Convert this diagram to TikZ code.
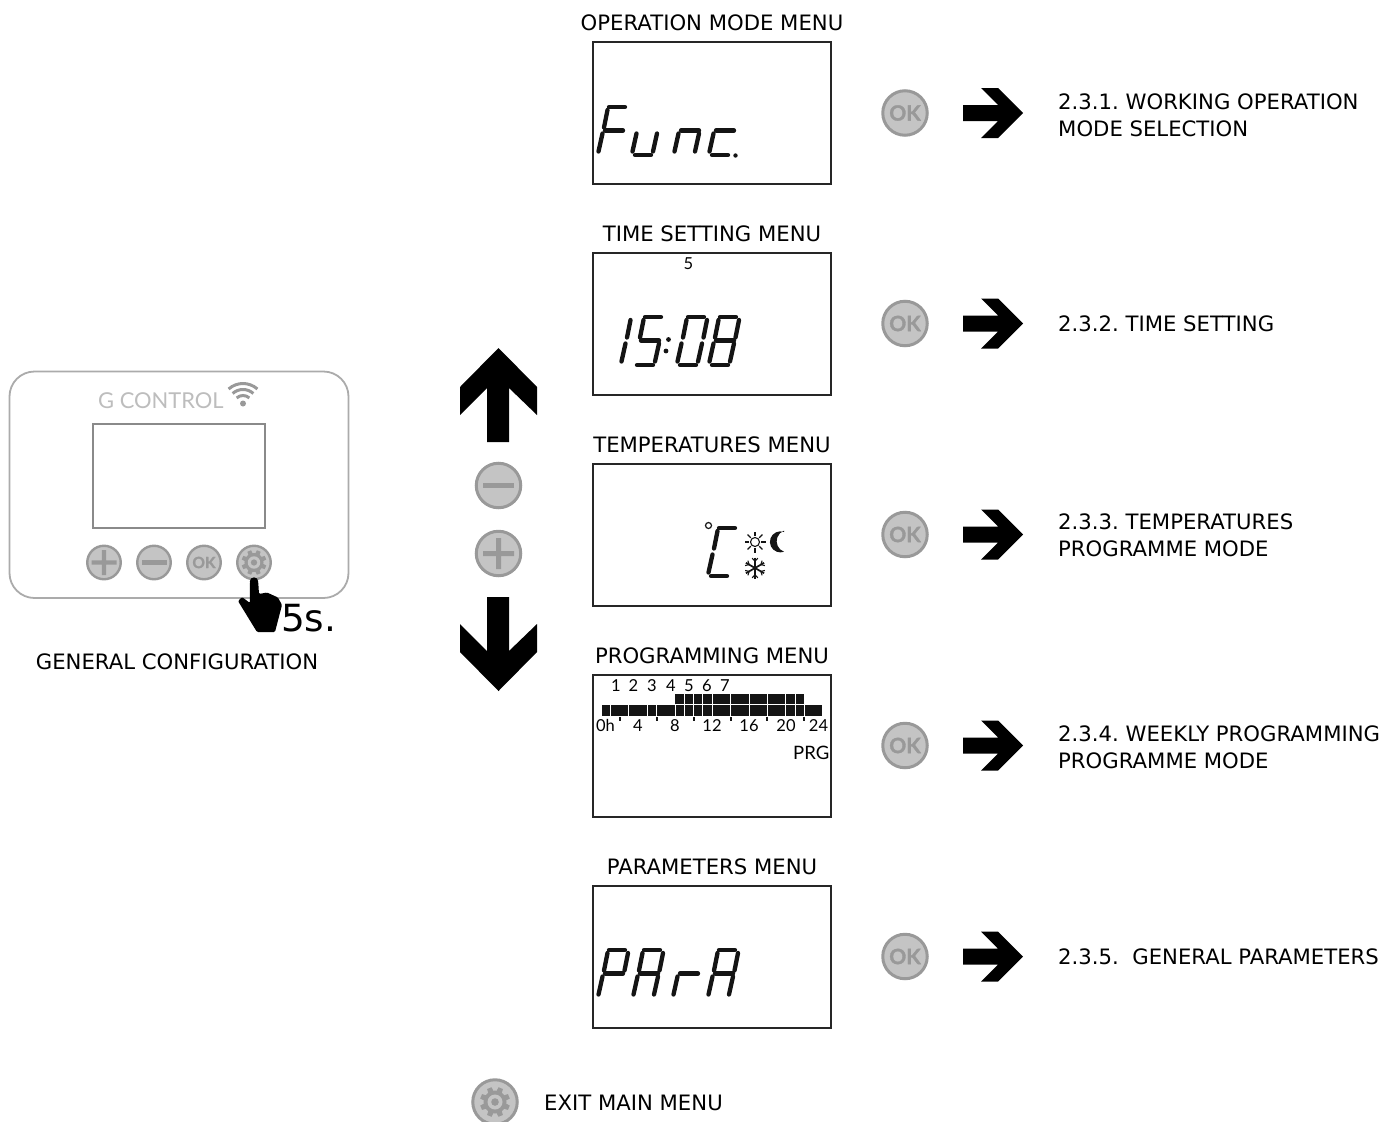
\documentclass[tikz,border=0pt]{standalone}
\usepackage{fontspec}
\usetikzlibrary{calc}
\setmainfont{DejaVu Sans}
\newfontfamily\lat{Lato}
\newfontfamily\latok[FakeBold=1.6]{Lato Bold}
\definecolor{btnfill}{HTML}{C4C4C4}
\definecolor{btnline}{HTML}{999999}
\definecolor{devline}{HTML}{ABABAB}
\definecolor{logo}{HTML}{BDBDBD}
\definecolor{lcd}{HTML}{141414}
\frenchspacing
\tikzset{
 lab/.style={inner sep=0pt,anchor=base,font=\fontsize{21.2}{24}\selectfont,text=black},
 labl/.style={lab,anchor=base west},
 screen/.style={draw=black!85,line width=1.5pt,fill=white,minimum width=238pt,minimum height=142pt,inner sep=0pt},
 bigbtn/.style={circle,draw=btnline,line width=3pt,fill=btnfill,minimum size=44.5pt,inner sep=0pt},
 smallbtn/.style={circle,draw=btnline,line width=2.4pt,fill=btnfill,minimum size=33.5pt,inner sep=0pt},
 lcdline/.style={draw=lcd,line width=4.3pt,line cap=round},
 small/.style={inner sep=0pt,anchor=base,font=\lat\fontsize{16.5}{18}\selectfont,text=black},
 blackshape/.style={fill=black,draw=none},
}
% seven-segment digit: origin = bottom-left corner
\newcommand\lcdsega{\draw[lcdline] (12,-48)--(28,-48);}
\newcommand\lcdsegb{\draw[lcdline] (27.5,-27.5)--(31,-45);}
\newcommand\lcdsegc{\draw[lcdline] (22,-3.5)--(26,-21.5);}
\newcommand\lcdsegd{\draw[lcdline] (4,0)--(20,0);}
\newcommand\lcdsege{\draw[lcdline] (1.5,-3.5)--(5.5,-21.5);}
\newcommand\lcdsegf{\draw[lcdline] (7,-27.5)--(10.5,-45);}
\newcommand\lcdsegg{\draw[lcdline] (8,-24.5)--(26,-24.5);}
\newcommand\lcddigit[3]{\begin{scope}[shift={(#1,#2)}]\foreach \s in {#3}{\csname lcdseg\s\endcsname}\end{scope}}
\newcommand\gearicon[3]{\begin{scope}[shift={(#1,#2)},scale=#3]
 \foreach \a in {0,45,...,315}{\fill[btnline,rotate=\a+22.5] (-2.8,-10)--(2.8,-10)--(2.4,-15)--(-2.4,-15)--cycle;}
 \fill[btnline] (0,0) circle (11.5);
 \fill[btnfill] (0,0) circle (7.5);
 \fill[btnline] (0,0) circle (3.8);
\end{scope}}
\newcommand\bigok[2]{\node[bigbtn] (#1) at (905,#2) {\latok\fontsize{21}{21}\selectfont\textcolor{btnline}{OK}};}
\newcommand\bigarrow[2]{\fill[blackshape,shift={(0,#1)}] (963,-8)--(998,-8)--(981,-25)--(998,-25)--(1023,0)--(998,25)--(981,25)--(998,8)--(963,8)--cycle;
 \coordinate (#2) at (1023,#1);}
\begin{document}
\begin{tikzpicture}[x=1pt,y=-1pt]
\useasboundingbox (0,0) rectangle (1382,1122);
% device
\draw[devline,line width=1.8pt,fill=white,rounded corners=25pt] (9.5,371.5) rectangle (348.5,598);
\node[draw=btnline!90!black,line width=2pt,minimum width=172pt,minimum height=104pt,inner sep=0pt] (devscreen) at (179,476) {};
\node[inner sep=0pt,anchor=base west,font=\lat\fontsize{21.9}{24}\selectfont,text=logo] (brand) at (98,408) {G CONTROL};
\fill[btnline] (243,403.5) circle (3);
\foreach \r in {9.5,15.5,21.5}{\draw[btnline,line width=3pt] ($(243,405)+(-48:\r)$) arc[start angle=-48,end angle=-132,radius=\r];}
\node[smallbtn] (devplus) at (104,562.5) {};
\fill[btnline] (91.5,560.3)--(116.5,560.3)--(116.5,564.7)--(91.5,564.7)--cycle (101.8,550)--(106.2,550)--(106.2,575)--(101.8,575)--cycle;
\node[smallbtn] (devminus) at (154,562.5) {};
\fill[btnline] (141.5,560.3)--(166.5,560.3)--(166.5,564.7)--(141.5,564.7)--cycle;
\node[smallbtn] (devok) at (204,562.5) {\latok\fontsize{15.5}{15.5}\selectfont\textcolor{btnline}{OK}};
\node[smallbtn] (devgear) at (254,562.5) {};
\gearicon{254}{562.5}{0.83}
% hand
\fill[black] (254,581.5) circle (4.2);
\fill[black,rounded corners=1.2pt] (249.8,581.5)--(258.2,581.5)--(259,594)--(267,592.5)--(278,597.5)--(282,605)--(275,632)--(257,632)--(238,601)--(242,597)--(250,603)--cycle;
\node[inner sep=0pt,anchor=base west,font=\fontsize{37.4}{40}\selectfont] (fives) at (281,631) {5s.};
\node[lab] (gencfg) at (177,669) {GENERAL CONFIGURATION};
% up/down
\fill[blackshape] (498.5,348)--(537,387)--(537,415)--(509,388)--(509,442)--(487,442)--(487,388)--(460,415)--(460,387)--cycle;
\fill[blackshape] (498.5,691)--(537,652)--(537,624)--(509,651)--(509,597)--(487,597)--(487,651)--(460,624)--(460,652)--cycle;
\node[bigbtn] (minusbtn) at (498.5,485.5) {};
\fill[btnline] (483,483)--(514,483)--(514,488)--(483,488)--cycle;
\node[bigbtn] (plusbtn) at (498.5,553.5) {};
\fill[btnline] (483,551)--(514,551)--(514,556)--(483,556)--cycle (496,538)--(501,538)--(501,569)--(496,569)--cycle;
% screens
\node[screen] (s1) at (712,113) {};
\node[screen] (s2) at (712,324) {};
\node[screen] (s3) at (712,535) {};
\node[screen] (s4) at (712,746) {};
\node[screen] (s5) at (712,957) {};
\node[lab] (t1) at (712,30.5) {OPERATION MODE MENU};
\node[lab] (t2) at (712,241.5) {TIME SETTING MENU};
\node[lab] (t3) at (712,452.5) {TEMPERATURES MENU};
\node[lab] (t4) at (712,663.5) {PROGRAMMING MENU};
\node[lab] (t5) at (712,874.5) {PARAMETERS MENU};
% Func.
\lcddigit{597}{155}{a,e,f,g}
\lcddigit{631}{155}{c,d,e}
\lcddigit{673}{155}{c,e,g}
\lcddigit{708}{155}{d,e,g}
\fill[lcd] (735.5,155.5) circle (2.2);
% 15:08
\node[small] (dayfive) at (688.5,269) {5};
\lcddigit{599.5}{365}{b,c}
\lcddigit{633}{365}{a,c,d,f,g}
\lcddigit{676}{365}{a,b,c,d,e,f}
\lcddigit{708}{365}{a,b,c,d,e,f,g}
\fill[lcd] (668.5,339.5) circle (2.4) (666,351) circle (2.4);
% C
\lcddigit{707}{576}{a,d,e,f}
\draw[lcd,line width=1.2pt] (708.5,525.5) circle (3);
\draw[lcd,line width=1.1pt] (755,542) circle (4.5);
\foreach \a in {0,45,...,315}{\draw[lcd,line width=1.1pt] ($(755,542)+(\a:6)$)--($(755,542)+(\a:10.5)$);}
\fill[lcd] (784,532) arc[start angle=-70,end angle=-290,radius=10.5] arc[start angle=-250,end angle=-110,radius=11.2]--cycle;
\foreach \a in {0,60,120}{\begin{scope}[shift={(755,568)},rotate=\a]
 \draw[lcd,line width=1.7pt] (0,-10.5)--(0,10.5);
 \draw[lcd,line width=1.1pt] (-2.8,-9.8)--(0,-6.8)--(2.8,-9.8) (-2.8,9.8)--(0,6.8)--(2.8,9.8);
\end{scope}}
% programme
\foreach \x/\d in {616/1,633.5/2,652/3,671/4,689/5,707/6,725/7}{\node[small] (day\d) at (\x,691) {\d};}
\fill[lcd] (602,704.5) rectangle (822,715.5);
\fill[lcd] (675,694) rectangle (804,704);
\foreach \x in {75,130,188,213,270}{\draw[white,line width=0.9pt] ({585+\x/3},704.5)--({585+\x/3},715.5);}
\foreach \x in {298,325,353,383,436,492,547,600,630}{\draw[white,line width=0.9pt] ({585+\x/3},694)--({585+\x/3},715.5);}
\draw[white,line width=0.9pt] (675,704.4)--(804,704.4);
\draw[white,line width=0.9pt] ({585+657/3},704.5)--({585+657/3},715.5);
\foreach \x in {620,657,694,731,767,804}{\fill[lcd] (\x-0.8,717) rectangle (\x+0.8,720.5);}
\foreach \x/\t in {605.5/0h,638/4,675/8,712/12,749/16,786/20,818.5/24}{\node[small] (hr\t) at (\x,731) {\t};}
\node[small,anchor=base east,font=\lat\fontsize{18.5}{20}\selectfont] (prg) at (829.5,759.5) {PRG};
% PArA
\lcddigit{597}{998}{a,b,e,f,g}
\lcddigit{632}{998}{a,b,c,e,f,g}
\lcddigit{672}{998}{e,g}
\lcddigit{707}{998}{a,b,c,e,f,g}
% OK + arrows
\bigok{ok1}{113}\bigarrow{113}{a1}
\bigok{ok2}{323.5}\bigarrow{323.5}{a2}
\bigok{ok3}{534.5}\bigarrow{534.5}{a3}
\bigok{ok4}{745.5}\bigarrow{745.5}{a4}
\bigok{ok5}{956.5}\bigarrow{956.5}{a5}
\node[labl] (r1a) at (1058,109) {2.3.1. WORKING OPERATION};
\node[labl] (r1b) at (1058,136) {MODE SELECTION};
\node[labl] (r2) at (1058,331) {2.3.2. TIME SETTING};
\node[labl] (r3a) at (1058,529) {2.3.3. TEMPERATURES};
\node[labl] (r3b) at (1058,556) {PROGRAMME MODE};
\node[labl] (r4a) at (1058,741) {2.3.4. WEEKLY PROGRAMMING};
\node[labl] (r4b) at (1058,768) {PROGRAMME MODE};
\node[labl] (r5) at (1058,964) {2.3.5.\ \ GENERAL PARAMETERS};
% exit
\begin{scope}
\clip (440,1060) rectangle (560,1122);
\node[bigbtn] (exitbtn) at (495,1102) {};
\gearicon{495}{1102}{1}
\end{scope}
\node[labl] (exit) at (544,1110) {EXIT MAIN MENU};
\end{tikzpicture}
\end{document}
